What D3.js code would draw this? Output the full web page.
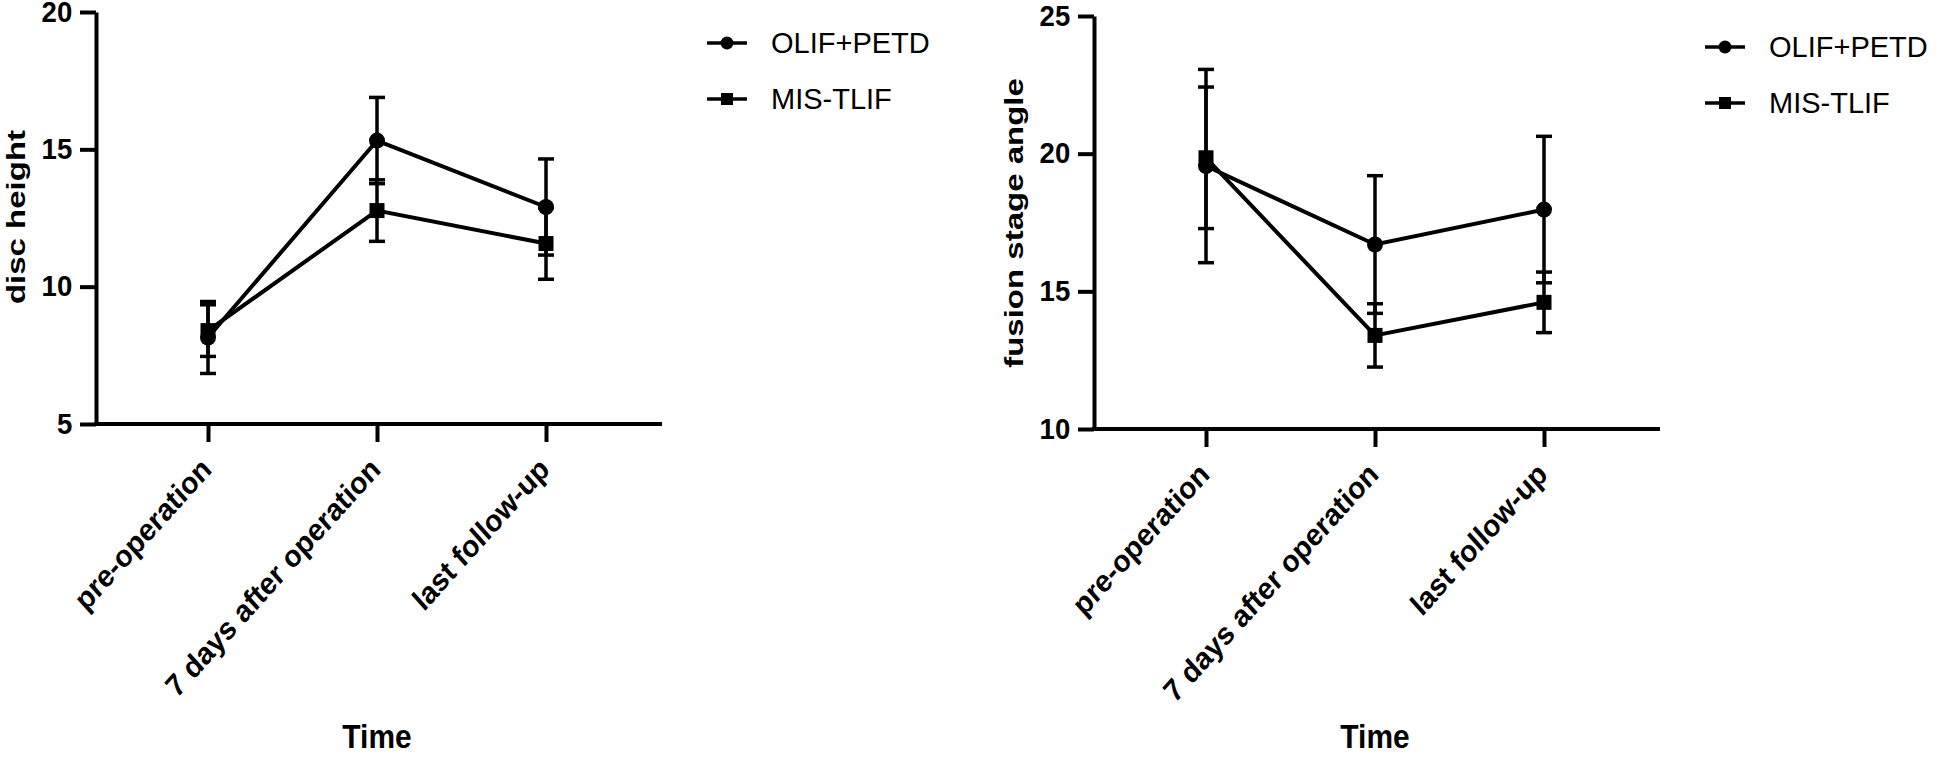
<!DOCTYPE html>
<html>
<head>
<meta charset="utf-8">
<script src="https://cdn.jsdelivr.net/npm/d3@7"></script>
<style>
  body { margin: 0; background: #fff; }
  svg { display: block; font-family: "Liberation Sans", Arial, sans-serif; }
</style>
</head>
<body>
<div id="chart"></div>
<script>
// data
const times = ["pre-operation", "7 days after operation", "last follow-up"];
const groups = ["OLIF+PETD", "MIS-TLIF"];

const discOlifMean = [8.15, 15.32, 12.9];
const discOlifSd = [1.31, 1.57, 1.75];
const discMisMean = [8.4, 12.77, 11.57];
const discMisSd = [0.94, 1.12, 1.3];

const angleOlifMean = [19.55, 16.7, 17.97];
const angleOlifSd = [3.51, 2.5, 2.66];
const angleMisMean = [19.85, 13.4, 14.6];
const angleMisSd = [2.57, 1.15, 1.1];

const discTicks = [5, 10, 15, 20];
const angleTicks = [10, 15, 20, 25];

const svg = d3.select("#chart")
  .append("svg")
  .attr("width", 1944)
  .attr("height", 758);

// one panel = one chart with its own axes and legend
function panel(opt) {
  const g = svg.append("g");

  const y = d3.scaleLinear()
    .domain([opt.ticks[0], opt.ticks[opt.ticks.length - 1]])
    .range([opt.bottom, opt.top]);

  const x = d3.scalePoint()
    .domain(times)
    .range([opt.left + 112, opt.left + 450]);

  // y axis
  const yAxis = g.append("g")
    .attr("transform", `translate(${opt.left},0)`)
    .call(d3.axisLeft(y).tickValues(opt.ticks).tickSize(16).tickSizeOuter(0));
  yAxis.select(".domain").attr("stroke-width", 4).attr("stroke", "#000");
  yAxis.selectAll(".tick line").attr("stroke-width", 4).attr("stroke", "#000");
  yAxis.selectAll(".tick text")
    .attr("x", -25)
    .attr("transform", "scale(0.95,1)")
    .attr("fill", "#000")
    .style("font-size", "29px")
    .style("font-weight", "bold");

  // x axis: line runs from the y axis to the right end
  g.append("line")
    .attr("x1", opt.left - 2)
    .attr("x2", opt.left + 566)
    .attr("y1", opt.bottom)
    .attr("y2", opt.bottom)
    .attr("stroke", "#000")
    .attr("stroke-width", 4);

  const xAxis = g.append("g")
    .attr("transform", `translate(0,${opt.bottom})`)
    .call(d3.axisBottom(x).tickSize(18).tickSizeOuter(0));
  xAxis.select(".domain").remove();
  xAxis.selectAll(".tick line").attr("stroke-width", 4).attr("stroke", "#000");
  xAxis.selectAll(".tick text").remove();

  // rotated category labels
  g.selectAll("text.cat")
    .data(times)
    .enter()
    .append("text")
    .attr("class", "cat")
    .attr("text-anchor", "end")
    .attr("transform", d => `translate(${x(d) + 5},${opt.bottom + 47}) scale(0.9,1) rotate(-45)`)
    .style("font-size", "31px")
    .style("font-weight", "bold")
    .text(d => d);

  // axis titles
  g.append("text")
    .attr("text-anchor", "middle")
    .attr("transform", `translate(${x(times[1])},748) scale(0.88,1)`)
    .style("font-size", "34px")
    .style("font-weight", "bold")
    .text("Time");

  g.append("text")
    .attr("text-anchor", "middle")
    .attr("transform", `translate(${opt.left - 71},${opt.titleY}) scale(0.8,1) rotate(-90)`)
    .style("font-size", "33px")
    .style("font-weight", "bold")
    .text(opt.title);

  const series = [
    { name: groups[0], mean: opt.olifMean, sd: opt.olifSd, shape: "circle" },
    { name: groups[1], mean: opt.misMean, sd: opt.misSd, shape: "square" }
  ];

  // error bars
  series.forEach(s => {
    const eb = g.selectAll(null)
      .data(times.map((t, i) => ({ t: t, m: s.mean[i], sd: s.sd[i] })))
      .enter()
      .append("g")
      .attr("stroke", "#000")
      .attr("stroke-width", 3.5);
    eb.append("line")
      .attr("x1", d => x(d.t)).attr("x2", d => x(d.t))
      .attr("y1", d => y(d.m + d.sd)).attr("y2", d => y(d.m - d.sd));
    eb.append("line")
      .attr("x1", d => x(d.t) - 8).attr("x2", d => x(d.t) + 8)
      .attr("y1", d => y(d.m + d.sd)).attr("y2", d => y(d.m + d.sd));
    eb.append("line")
      .attr("x1", d => x(d.t) - 8).attr("x2", d => x(d.t) + 8)
      .attr("y1", d => y(d.m - d.sd)).attr("y2", d => y(d.m - d.sd));
  });

  // lines
  const line = d3.line()
    .x((d, i) => x(times[i]))
    .y(d => y(d));
  series.forEach(s => {
    g.append("path")
      .datum(s.mean)
      .attr("d", line)
      .attr("fill", "none")
      .attr("stroke", "#000")
      .attr("stroke-width", 4);
  });

  // markers
  series.forEach(s => {
    const pts = times.map((t, i) => ({ t: t, m: s.mean[i] }));
    if (s.shape === "circle") {
      g.selectAll(null).data(pts).enter().append("circle")
        .attr("cx", d => x(d.t)).attr("cy", d => y(d.m))
        .attr("r", 8).attr("fill", "#000");
    } else {
      g.selectAll(null).data(pts).enter().append("rect")
        .attr("x", d => x(d.t) - 7.5).attr("y", d => y(d.m) - 7.5)
        .attr("width", 15).attr("height", 15).attr("fill", "#000");
    }
  });

  // legend
  const lx = opt.left + 611;
  series.forEach((s, i) => {
    const ly = opt.top + 31 + i * 56;
    g.append("line")
      .attr("x1", lx).attr("x2", lx + 40)
      .attr("y1", ly).attr("y2", ly)
      .attr("stroke", "#000").attr("stroke-width", 3.5);
    if (s.shape === "circle") {
      g.append("circle").attr("cx", lx + 20).attr("cy", ly).attr("r", 6.5).attr("fill", "#000");
    } else {
      g.append("rect").attr("x", lx + 14).attr("y", ly - 6).attr("width", 12).attr("height", 12).attr("fill", "#000");
    }
    g.append("text")
      .attr("x", lx + 64)
      .attr("y", ly)
      .attr("dy", "0.36em")
      .style("font-size", "29px")
      .text(s.name);
  });
}

panel({
  left: 96, top: 12, bottom: 424, titleY: 217,
  ticks: discTicks, title: "disc height",
  olifMean: discOlifMean, olifSd: discOlifSd,
  misMean: discMisMean, misSd: discMisSd
});

panel({
  left: 1094, top: 16, bottom: 429, titleY: 223,
  ticks: angleTicks, title: "fusion stage angle",
  olifMean: angleOlifMean, olifSd: angleOlifSd,
  misMean: angleMisMean, misSd: angleMisSd
});
</script>
</body>
</html>
